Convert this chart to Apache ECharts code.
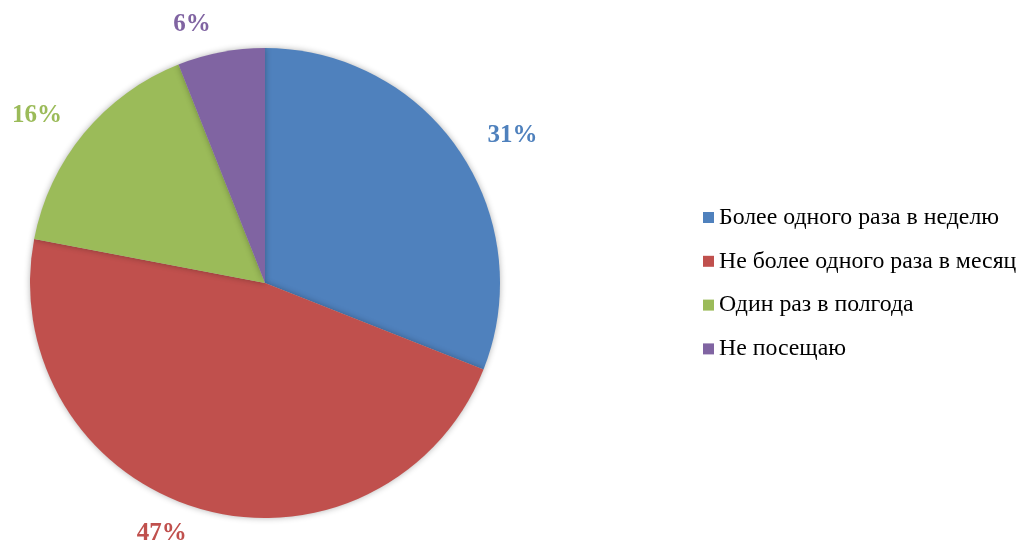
<!DOCTYPE html>
<html>
<head>
<meta charset="utf-8">
<script src="https://cdn.jsdelivr.net/npm/echarts@6/dist/echarts.min.js"></script>
<style>
html, body { margin: 0; padding: 0; background: #fff; }
#main { width: 1022px; height: 547px; }
</style>
</head>
<body>
<div id="main"></div>
<script>
let categories = ['Более одного раза в неделю', 'Не более одного раза в месяц', 'Один раз в полгода', 'Не посещаю'];
let values = [31, 47, 16, 6];
let colors = ['#4F81BD', '#C0504D', '#9BBB59', '#8064A2'];

let myChart = echarts.init(document.getElementById('main'));
let option = {
	backgroundColor: '#fff',
	color: colors,
	legend: {
		orient: 'vertical',
		left: 703,
		top: 205.5,
		padding: 0,
		icon: 'rect',
		itemWidth: 11,
		itemHeight: 11,
		itemGap: 19.8,
		data: categories,
		textStyle: {
			fontFamily: '"Liberation Serif", "Times New Roman", serif',
			fontSize: 23.8,
			color: '#000'
		}
	},
	series: [{
		type: 'pie',
		center: [265, 283],
		radius: 235,
		startAngle: 90,
		clockwise: true,
		animation: false,
		itemStyle: {
			shadowBlur: 6,
			shadowColor: 'rgba(0, 0, 0, 0.3)'
		},
		label: {
			show: true,
			position: 'outside',
			formatter: '{c}%',
			fontFamily: '"Liberation Serif", "Times New Roman", serif',
			fontSize: 25,
			fontWeight: 'bold'
		},
		labelLine: {
			show: false,
			length: 28,
			length2: 0
		},
		emphasis: { disabled: true },
		data: categories.map(function (name, i) {
			return { name: name, value: values[i], label: { color: colors[i] } };
		})
	}]
};
myChart.setOption(option);
</script>
</body>
</html>
